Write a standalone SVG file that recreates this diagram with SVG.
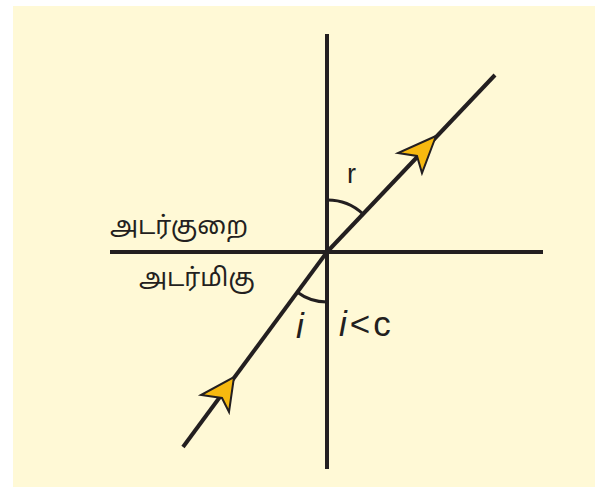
<svg xmlns="http://www.w3.org/2000/svg" width="595" height="487" viewBox="0 0 595 487">
<style>
.ln{stroke:#231f20;stroke-width:4;fill:none;stroke-linecap:butt}
.arc{stroke:#231f20;stroke-width:3;fill:none}
.arw{fill:#f7b90f;stroke:#231f20;stroke-width:2;stroke-linejoin:miter}
.ta{font-family:"Noto Sans Tamil","Noto Sans","Liberation Sans",sans-serif;font-size:25px;fill:#231f20}
.lb{font-family:"Liberation Sans",Arial,sans-serif;fill:#231f20}
</style>
<rect x="13" y="6" width="582" height="481" fill="#fff9d6"/>
<g id="connectors">
<line class="ln" x1="327" y1="34" x2="327" y2="469"/>
<line class="ln" x1="110" y1="252" x2="543" y2="252"/>
<line class="ln" x1="183" y1="447" x2="327" y2="252"/>
<line class="ln" x1="327" y1="252" x2="495" y2="75"/>
<path class="arc" d="M327,200 A52,52 0 0 1 363,214"/>
<path class="arc" d="M297,292 A50,50 0 0 0 327,302"/>
</g>
<g id="arrow-incident">
<polygon class="arw" points="234,377 229,412 222,398 201,395"/>
</g>
<g id="arrow-refracted">
<polygon class="arw" points="436,136 422,173 417,156 398,153"/>
</g>
<g id="labels">
<text class="ta" x="110" y="234">அடர்குறை</text>
<text class="ta" x="139" y="286">அடர்மிகு</text>
<text class="lb" x="347" y="183" font-size="27">r</text>
<text class="lb" x="296" y="338" font-size="35" font-style="italic">i</text>
<text class="lb" x="339" y="336" font-size="35" letter-spacing="3"><tspan font-style="italic">i</tspan>&lt;c</text>
</g>
</svg>
